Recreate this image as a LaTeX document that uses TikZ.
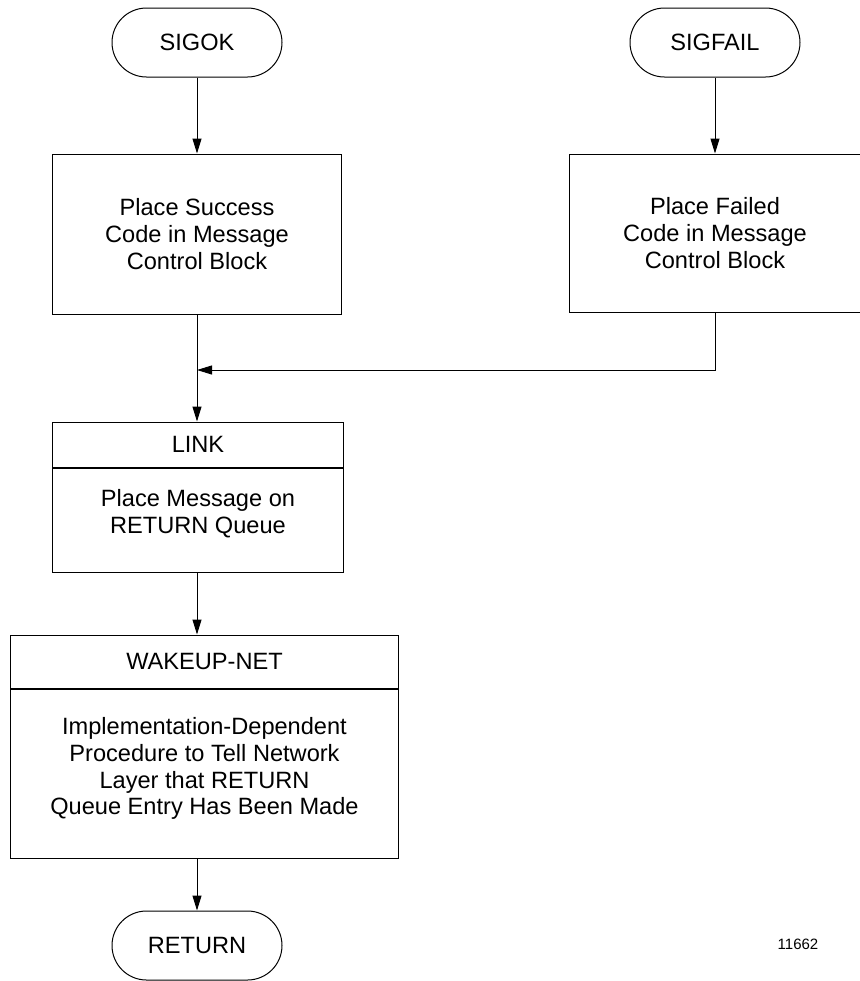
\documentclass[tikz,border=0pt]{standalone}
\usepackage{fontspec}
\setmainfont{Liberation Sans}
\usepackage{tikz}
\usetikzlibrary{arrows.meta, positioning}
\tikzset{
    % Node styles
    terminalbox/.style={
        rectangle,
        draw,
        rounded corners=17.25pt,
        minimum width=85pt,
        minimum height=34.5pt,
        text centered,
        font=\fontsize{11.8}{13.3}\selectfont
    },
    processbox/.style={
        rectangle,
        draw,
        minimum width=144.5pt,
        minimum height=80pt,
        align=center,
        font=\fontsize{11.8}{13.3}\selectfont
    },
    headbox/.style={
        rectangle,
        draw,
        inner sep=0pt,
        text centered,
        font=\fontsize{11.8}{13.3}\selectfont
    },
    bodybox/.style={
        rectangle,
        draw,
        inner sep=0pt,
        align=center,
        font=\fontsize{11.8}{13.3}\selectfont
    },
    % Arrow styles
    myarrow/.style={
        -{Triangle[length=7.5pt,width=4.5pt]},
        line width=0.5pt
    }
}
\begin{document}
\begin{tikzpicture}[x=50pt,y=50pt,line width=0.5pt]
    \useasboundingbox (0,0) rectangle (8.6,-9.81);

    % Entry points
    \node[terminalbox] (sigok) at (1.97,-0.425) {SIGOK};
    \node[terminalbox] (sigfail) at (7.15,-0.425) {SIGFAIL};

    % Status code boxes
    \node[processbox] (success) at (1.97,-2.34) {Place Success\\Code in Message\\Control Block};
    \node[processbox,minimum width=146pt,minimum height=79pt] (failed) at (7.15,-2.33) {Place Failed\\Code in Message\\Control Block};

    % LINK
    \node[headbox,minimum width=145pt,minimum height=22.5pt] (linkhead) at (1.98,-4.445) {LINK};
    \node[bodybox,minimum width=145pt,minimum height=52pt,below=0pt of linkhead] (linkbody) {Place Message on\\RETURN Queue\\[-5pt]};

    % WAKEUP-NET
    \node[headbox,minimum width=193.5pt,minimum height=26.5pt] (wakehead) at (2.045,-6.615) {WAKEUP-NET};
    \node[bodybox,minimum width=193.5pt,minimum height=84.5pt,below=0pt of wakehead] (wakebody) {Implementation-Dependent\\Procedure to Tell Network\\Layer that RETURN\\Queue Entry Has Been Made\\[-6pt]};

    % Exit
    \node[terminalbox] (ret) at (1.97,-9.455) {RETURN};

    % Figure number
    \node[font=\fontsize{7.5}{9}\selectfont] (fignum) at (7.98,-9.44) {11662};

    % Arrows
    \coordinate (join) at (1.97,-3.70);
    \draw[myarrow] (sigok.south) -- (success.north);
    \draw[myarrow] (sigfail.south) -- (failed.north);
    \draw[myarrow] (success.south) -- (success.south |- linkhead.north);
    \draw[myarrow] (failed.south) |- (join);
    \draw[myarrow] (linkbody.south -| success.south) -- (success.south |- wakehead.north);
    \draw[myarrow] (wakebody.south -| ret.north) -- (ret.north);
\end{tikzpicture}
\end{document}
